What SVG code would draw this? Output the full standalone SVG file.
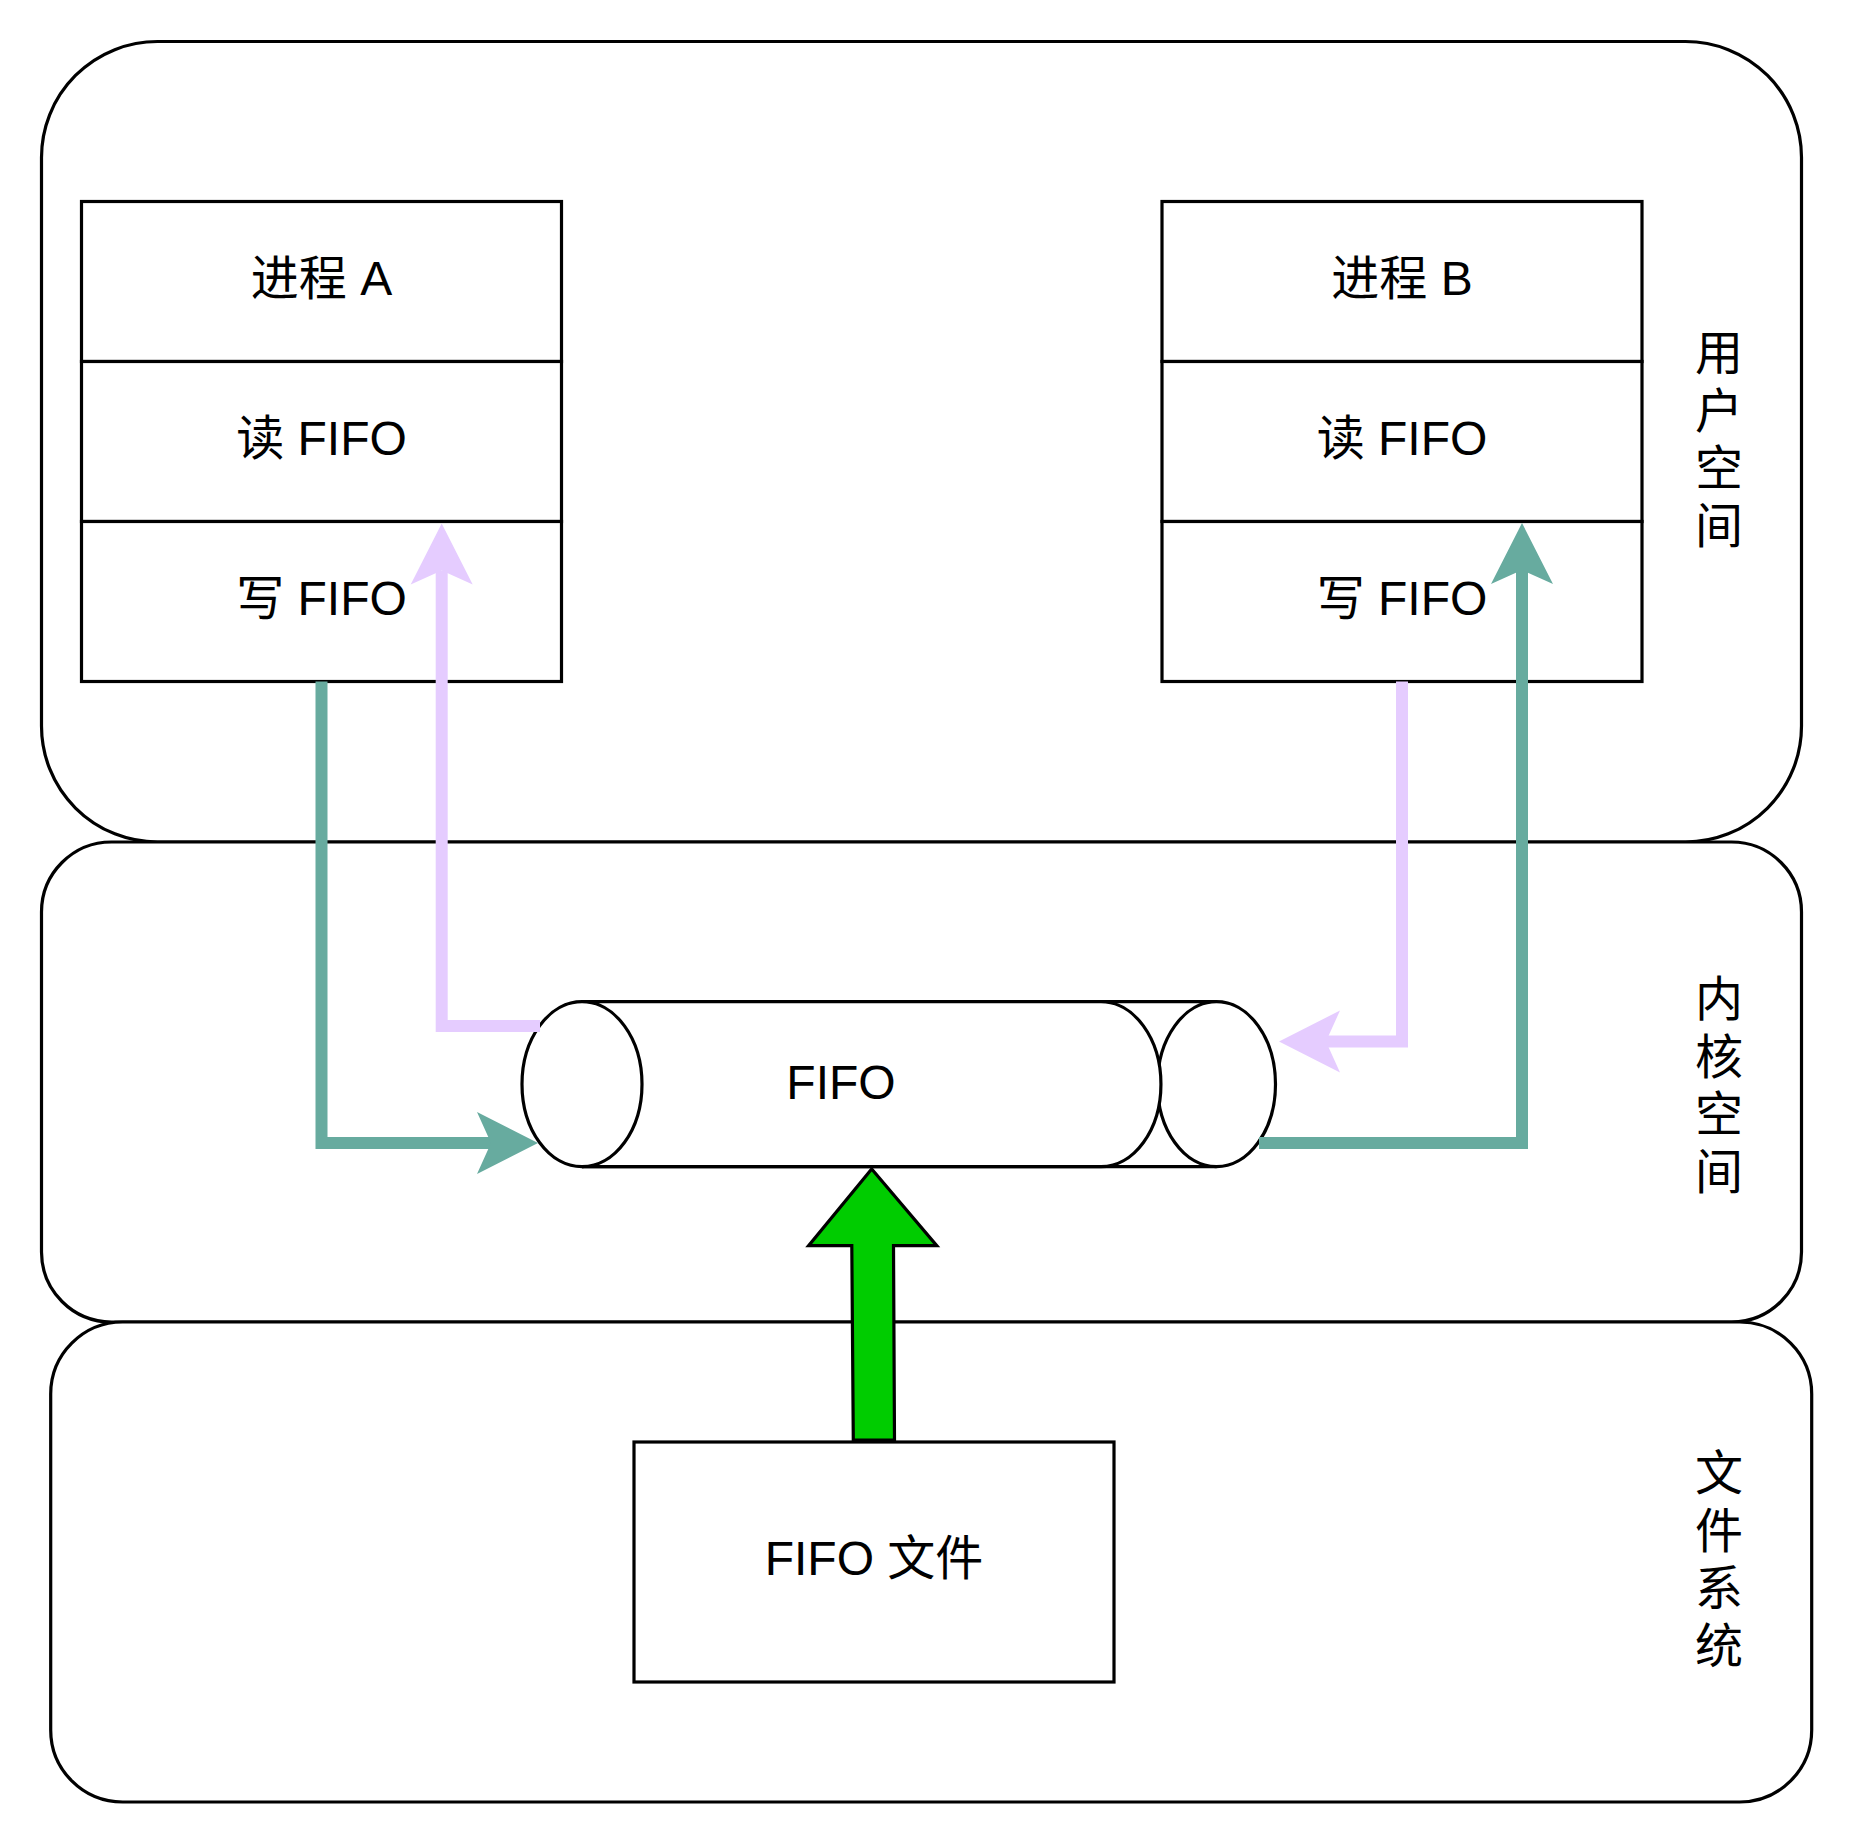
<svg xmlns="http://www.w3.org/2000/svg" width="1856" height="1844" viewBox="0 0 1856 1844">
  <style>
    .band { fill: #ffffff; stroke: #000000; stroke-width: 3.2; }
    .box { fill: #ffffff; stroke: #000000; stroke-width: 3.2; }
    .lbl { font-family: "Liberation Sans", "Noto Sans CJK SC", sans-serif; font-size: 48px; fill: #000000; text-anchor: middle; }
    .teal { fill: none; stroke: #67AB9F; stroke-width: 12; stroke-linejoin: miter; stroke-linecap: butt; }
    .lilac { fill: none; stroke: #E5CCFF; stroke-width: 12; stroke-linejoin: miter; stroke-linecap: butt; }
  </style>
  <defs>
    <marker id="arrTeal" markerUnits="userSpaceOnUse" markerWidth="1" markerHeight="1" refX="0" refY="0" orient="auto" overflow="visible">
      <path d="M47,0 L-14,-31 L0,0 L-14,31 Z" fill="#67AB9F"/>
    </marker>
    <marker id="arrLilac" markerUnits="userSpaceOnUse" markerWidth="1" markerHeight="1" refX="0" refY="0" orient="auto" overflow="visible">
      <path d="M47,0 L-14,-31 L0,0 L-14,31 Z" fill="#E5CCFF"/>
    </marker>
  </defs>

  <g id="user-space">
    <rect class="band" x="41.5" y="41.5" width="1760" height="800.5" rx="116" ry="116"/>
    <text class="lbl" x="1719" y="370">用</text>
    <text class="lbl" x="1719" y="427.5">户</text>
    <text class="lbl" x="1719" y="485">空</text>
    <text class="lbl" x="1719" y="542.5">间</text>
  </g>
  <g id="kernel-space">
    <rect class="band" x="41.5" y="842" width="1760" height="480" rx="70" ry="70"/>
    <text class="lbl" x="1719" y="1016">内</text>
    <text class="lbl" x="1719" y="1073.5">核</text>
    <text class="lbl" x="1719" y="1131">空</text>
    <text class="lbl" x="1719" y="1188.5">间</text>
  </g>
  <g id="file-system">
    <rect class="band" x="50.7" y="1322" width="1761" height="480" rx="72" ry="72"/>
    <text class="lbl" x="1719" y="1490">文</text>
    <text class="lbl" x="1719" y="1547.5">件</text>
    <text class="lbl" x="1719" y="1605">系</text>
    <text class="lbl" x="1719" y="1662.5">统</text>
  </g>

  <g id="process-a">
    <rect class="box" x="81.5" y="201.5" width="480" height="160"/>
    <rect class="box" x="81.5" y="361.5" width="480" height="160"/>
    <rect class="box" x="81.5" y="521.5" width="480" height="160"/>
    <text class="lbl" x="321.5" y="295">进程 A</text>
    <text class="lbl" x="321.5" y="455">读 FIFO</text>
    <text class="lbl" x="321.5" y="615">写 FIFO</text>
  </g>
  <g id="process-b">
    <rect class="box" x="1162" y="201.5" width="480" height="160"/>
    <rect class="box" x="1162" y="361.5" width="480" height="160"/>
    <rect class="box" x="1162" y="521.5" width="480" height="160"/>
    <text class="lbl" x="1402" y="295">进程 B</text>
    <text class="lbl" x="1402" y="455">读 FIFO</text>
    <text class="lbl" x="1402" y="615">写 FIFO</text>
  </g>

  <g id="fifo">
    <path d="M582,1001.7 L1216.5,1001.7 L1216.5,1166.7 L582,1166.7 Z" fill="#ffffff" stroke="none"/>
    <line x1="582" y1="1001.7" x2="1216.5" y2="1001.7" stroke="#000" stroke-width="3.2"/>
    <line x1="582" y1="1166.7" x2="1216.5" y2="1166.7" stroke="#000" stroke-width="3.2"/>
    <ellipse class="box" cx="1216.5" cy="1084.2" rx="59" ry="82.5"/>
    <path d="M1101,1001.7 A60,82.5 0 0 1 1101,1166.7" fill="#ffffff" stroke="#000" stroke-width="3.2"/>
    <path d="M1101,1001.7 L582,1001.7 L582,1166.7 L1101,1166.7" fill="#ffffff" stroke="none"/>
    <line x1="582" y1="1001.7" x2="1101" y2="1001.7" stroke="#000" stroke-width="3.2"/>
    <line x1="582" y1="1166.7" x2="1101" y2="1166.7" stroke="#000" stroke-width="3.2"/>
    <ellipse class="box" cx="582" cy="1084.2" rx="60" ry="82.5"/>
    <text class="lbl" x="841" y="1099">FIFO</text>
  </g>

  <g id="fifo-file">
    <rect class="box" x="634" y="1442" width="480" height="240"/>
    <text class="lbl" x="874" y="1575">FIFO 文件</text>
  </g>

  <g id="connectors">
    <path class="teal" d="M321.5,681.5 L321.5,1143 L491,1143" marker-end="url(#arrTeal)"/>
    <path class="lilac" d="M540,1026 L441.7,1026 L441.7,570.5" marker-end="url(#arrLilac)"/>
    <path class="lilac" d="M1402,681.5 L1402,1041.5 L1326,1041.5" marker-end="url(#arrLilac)"/>
    <path class="teal" d="M1259,1143 L1522,1143 L1522,570" marker-end="url(#arrTeal)"/>
    <polygon points="871.7,1169 936.8,1245.7 893.5,1245.7 894.5,1440 853.3,1440 851.8,1245.7 808.6,1245.7" fill="#00CC00" stroke="#000000" stroke-width="3.2" stroke-linejoin="miter"/>
  </g>
</svg>
